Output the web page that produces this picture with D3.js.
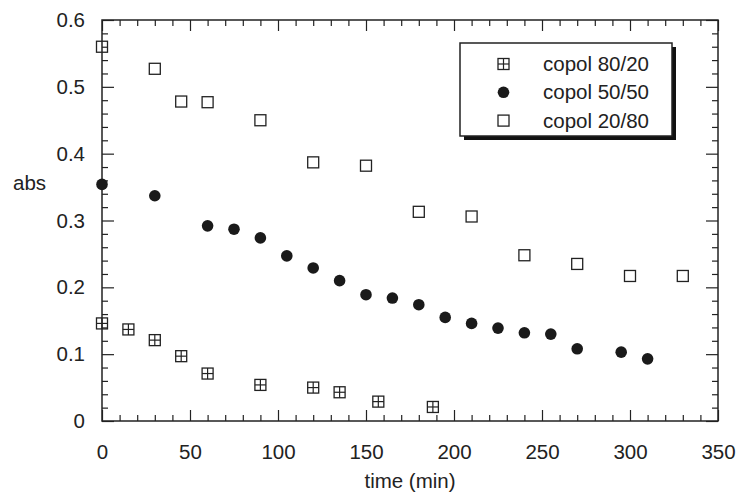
<!DOCTYPE html>
<html>
<head>
<meta charset="utf-8">
<script src="https://cdn.jsdelivr.net/npm/d3@7"></script>
<style>
  body { margin: 0; background: #fff; }
  svg { font-family: "Liberation Sans", Arial, sans-serif; }
</style>
</head>
<body>
<div id="chart"></div>
<script>
// copol 80/20 (crossed squares)
const time8020 = [0, 15, 30, 45, 60, 90, 120, 135, 157, 188];
const abs8020 = [0.146, 0.137, 0.121, 0.097, 0.071, 0.054, 0.050, 0.043, 0.029, 0.021];
// copol 50/50 (filled circles)
const time5050 = [0, 30, 60, 75, 90, 105, 120, 135, 150, 165, 180, 195, 210, 225, 240, 255, 270, 295, 310];
const abs5050 = [0.354, 0.337, 0.292, 0.287, 0.274, 0.247, 0.229, 0.210, 0.189, 0.184, 0.174, 0.155, 0.146, 0.139, 0.132, 0.130, 0.108, 0.103, 0.093];
// copol 20/80 (open squares)
const time2080 = [0, 30, 45, 60, 90, 120, 150, 180, 210, 240, 270, 300, 330];
const abs2080 = [0.560, 0.527, 0.478, 0.477, 0.450, 0.387, 0.382, 0.313, 0.306, 0.248, 0.235, 0.217, 0.217];

const xTicks = [0, 50, 100, 150, 200, 250, 300, 350];
const yTicks = [0, 0.1, 0.2, 0.3, 0.4, 0.5, 0.6];
const legendLabels = ["copol 80/20", "copol 50/50", "copol 20/80"];

const width = 737, height = 492;
const margin = { left: 102, right: 19, top: 20, bottom: 71 };
const ink = "#222";
const fs = 20.5;

const svg = d3.select("#chart").append("svg")
  .attr("width", width)
  .attr("height", height);

const x = d3.scaleLinear().domain([0, 350]).range([margin.left, width - margin.right]);
const y = d3.scaleLinear().domain([0, 0.6]).range([height - margin.bottom, margin.top]);

const x0 = x(0), x1 = x(350), y0 = y(0), y1 = y(0.6);

// minor ticks
const xMinor = d3.range(0, 351, 10).filter(v => v % 50 !== 0);
const yMinor = d3.range(0, 31, 1).map(v => v * 0.02).filter((v, i) => i % 5 !== 0);

function drawAxis(axis, tx, ty) {
  const g = svg.append("g").attr("transform", `translate(${tx},${ty})`).call(axis);
  g.select(".domain").remove();
  g.selectAll("line").attr("stroke", ink).attr("stroke-width", 1.2);
  return g;
}

// bottom
drawAxis(d3.axisBottom(x).tickValues(xMinor).tickSize(-6).tickFormat(""), 0, y0);
const xb = drawAxis(d3.axisBottom(x).tickValues(xTicks).tickSize(-11).tickPadding(23).tickFormat(d3.format("d")), 0, y0);
xb.selectAll("text").attr("font-size", fs).attr("fill", ink);
// top
drawAxis(d3.axisTop(x).tickValues(xMinor).tickSize(-6).tickFormat(""), 0, y1);
drawAxis(d3.axisTop(x).tickValues(xTicks).tickSize(-11).tickFormat(""), 0, y1);
// left
drawAxis(d3.axisLeft(y).tickValues(yMinor).tickSize(-6).tickFormat(""), x0, 0);
const yl = drawAxis(d3.axisLeft(y).tickValues(yTicks).tickSize(-12).tickPadding(17).tickFormat(d => d === 0 ? "0" : d3.format(".1f")(d)), x0, 0);
yl.selectAll("text").attr("font-size", fs).attr("fill", ink);
// right
drawAxis(d3.axisRight(y).tickValues(yMinor).tickSize(-6).tickFormat(""), x1, 0);
drawAxis(d3.axisRight(y).tickValues(yTicks).tickSize(-12).tickFormat(""), x1, 0);

// frame
svg.append("rect")
  .attr("x", x0).attr("y", y1)
  .attr("width", x1 - x0).attr("height", y0 - y1)
  .attr("fill", "none").attr("stroke", ink).attr("stroke-width", 1.5);

// axis titles
svg.append("text")
  .attr("x", (x0 + x1) / 2).attr("y", 488)
  .attr("text-anchor", "middle").attr("font-size", fs).attr("fill", ink)
  .text("time (min)");
svg.append("text")
  .attr("x", 13).attr("y", y(0.355) + 6)
  .attr("font-size", fs).attr("fill", ink)
  .text("abs");

// markers
const s = 11;
function crossSquare(g, cx, cy) {
  g.append("rect").attr("x", cx - s / 2).attr("y", cy - s / 2).attr("width", s).attr("height", s)
    .attr("fill", "none").attr("stroke", ink).attr("stroke-width", 1.3);
  g.append("line").attr("x1", cx).attr("x2", cx).attr("y1", cy - s / 2).attr("y2", cy + s / 2)
    .attr("stroke", ink).attr("stroke-width", 1.2);
  g.append("line").attr("x1", cx - s / 2).attr("x2", cx + s / 2).attr("y1", cy).attr("y2", cy)
    .attr("stroke", ink).attr("stroke-width", 1.2);
}
function openSquare(g, cx, cy) {
  g.append("rect").attr("x", cx - s / 2).attr("y", cy - s / 2).attr("width", s).attr("height", s)
    .attr("fill", "none").attr("stroke", ink).attr("stroke-width", 1.3);
}
function dot(g, cx, cy) {
  g.append("circle").attr("cx", cx).attr("cy", cy).attr("r", 5.8).attr("fill", "#1a1a1a");
}

const pts = svg.append("g");
time8020.forEach((t, i) => crossSquare(pts, x(t), y(abs8020[i])));
time5050.forEach((t, i) => dot(pts, x(t), y(abs5050[i])));
time2080.forEach((t, i) => openSquare(pts, x(t), y(abs2080[i])));

// legend
const lg = svg.append("g");
const lx = 460, ly = 43, lw = 212, lh = 93;
lg.append("rect").attr("x", lx + 4).attr("y", ly + 4).attr("width", lw).attr("height", lh).attr("fill", "#111");
lg.append("rect").attr("x", lx).attr("y", ly).attr("width", lw).attr("height", lh)
  .attr("fill", "#fff").attr("stroke", ink).attr("stroke-width", 1.5);
const markers = [crossSquare, dot, openSquare];
legendLabels.forEach((lab, i) => {
  const cy = 64 + i * 28.3;
  markers[i](lg, 503.5, cy);
  lg.append("text").attr("x", 543).attr("y", cy + 7)
    .attr("font-size", fs).attr("fill", ink).text(lab);
});
</script>
</body>
</html>
